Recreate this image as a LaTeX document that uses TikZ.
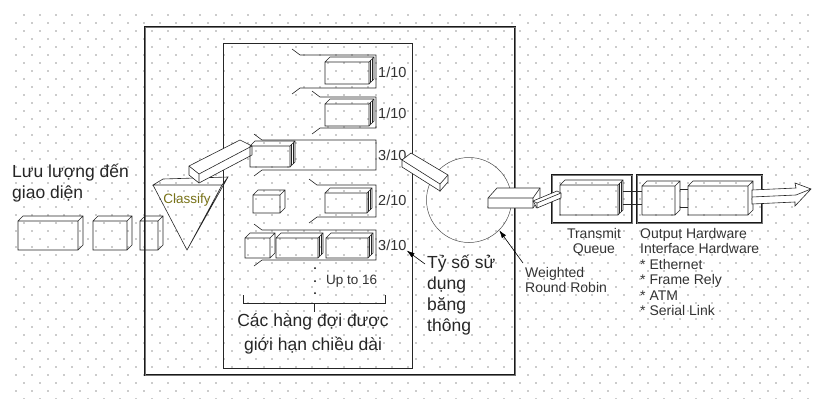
\documentclass[tikz,border=0pt]{standalone}
\usepackage{fontspec}
\setmainfont{Liberation Sans}
\usetikzlibrary{arrows.meta}

% 3D box, front face at (#1,#2) of size #3 x #4
\newcommand{\pkt}[4]{%
  \draw[ln] (#1,#2) rectangle ++(#3,#4)
    (#1,#2) -- ++(5,-5) -- ++(#3,0) -- ++(0,#4) -- ++(-5,5)
    (#1+#3,#2) -- ++(5,-5);}
% same box with a ribbed right side
\newcommand{\qpkt}[4]{\pkt{#1}{#2}{#3}{#4}
  \draw[ln] (#1+#3+1.7,#2-1.7) -- ++(0,#4) (#1+#3+3.4,#2-3.4) -- ++(0,#4);}
% queue frame, open at x=#1
\newcommand{\qframe}[4]{%
  \draw[ln] (#1-8,#2-6) -- (#1,#2) -- (#3,#2) -- (#3,#4) -- (#1,#4) -- (#1-8,#4+6);}

\begin{document}
\begin{tikzpicture}[x=1pt,y=-1pt,
    ln/.style={draw=black!85, line width=0.6pt},
    dbl/.style={draw=black!90, line width=0.6pt, double=black!55, double distance=1pt},
    txt/.style={inner sep=0pt, text=black!85, align=left, font=\fontsize{17.5}{21}\selectfont},
    note/.style={inner sep=0pt, text=black!80, align=left, font=\fontsize{14}{15.5}\selectfont},
    ratio/.style={inner sep=0pt, text=black!80, anchor=west, font=\fontsize{14.5}{16}\selectfont},
    pointer/.style={-{Latex[length=8pt,width=5pt]}, line width=0.6pt}]
\useasboundingbox (0,0) rectangle (815,399);
% dotted paper
\foreach \r in {0,...,48} {
  \pgfmathsetmacro\xo{mod(\r,2)==0 ? 22.7 : 14.7}
  \foreach \c in {0,...,50}
    \fill[black!20] (\xo+16*\c,14+8*\r) rectangle ++(1.8,1.8);
}

\draw[dbl] (145,27) rectangle (515,375);
\draw[ln, line width=0.8pt] (223,43) rectangle (412,368);

% incoming packets and classifier
\node[txt, anchor=north west] (inflow) at (12,164) {Lưu lượng đến\\giao diện};
\pkt{18}{221}{60}{29} \pkt{93}{221}{34}{29} \pkt{140}{221}{18}{29}
\draw[ln] (153,185) -- (163,179) -- (228,177) -- (222,185) -- cycle
  (153,185) -- (187,250) -- (222,185) (187,250) -- (228,177);
\node[note, text=olive!80!black, font=\fontsize{13.5}{15}\selectfont] (classify) at (187,200) {Classify};
\draw[ln, fill=white] (189,166) -- (240,140) -- (252,146) -- (252,155) -- (199,183) -- (189,175) -- cycle;
\draw[ln] (189,166) -- (199,174) -- (252,146) (199,174) -- (199,183);

% queues
\qframe{300}{55}{376}{88} \qpkt{325}{62}{44}{22}
\qframe{320}{97}{376}{128} \qpkt{325}{104}{44}{22}
\qframe{262}{140}{376}{170} \qpkt{250}{146}{40}{21}
\qframe{317}{185}{376}{217} \qpkt{325}{193}{42}{20}
\qframe{262}{230}{376}{260} \pkt{245}{238}{25}{20} \qpkt{276}{238}{42}{20} \qpkt{326}{238}{42}{20}
\pkt{253}{195}{27}{18}

\node[ratio] (r1) at (378,72) {1/10};
\node[ratio] (r2) at (378,113) {1/10};
\node[ratio] (r3) at (378,155) {3/10};
\node[ratio] (r4) at (378,200) {2/10};
\node[ratio] (r5) at (378,245) {3/10};

\fill (315,268) circle (1) (315,281) circle (1) (315,293) circle (1);
\node[note, font=\fontsize{13.5}{15}\selectfont, anchor=west] (upto) at (326,281) {Up to 16};
\draw[ln] (243,295) -- (243,303) -- (385,303) -- (385,295) (314,303) -- (314,312);
\node[txt, align=center, anchor=north, font=\fontsize{17.5}{24}\selectfont] (qlabel) at (313,313) {Các hàng đợi được\\giới hạn chiều dài};

% scheduler
\node[circle, draw=black!70, line width=0.5pt, minimum size=85] (wrr) at (469,200) {};
\draw[ln, fill=white] (402,160) -- (411,153) -- (448,175) -- (448,182) -- (440,191) -- (402,167) -- cycle;
\draw[ln] (402,160) -- (440,184) -- (448,175) (440,184) -- (440,191);
\node[txt, anchor=north west] (bwlabel) at (427,255) {Tỷ số sử\\dụng\\băng\\thông};
\coordinate (bwtail) at (425,264);
\draw[pointer] (bwtail) -- (r5.south east);
\node[note, anchor=north west] (wrrlabel) at (525,267) {Weighted\\Round Robin};
\coordinate (wrrtail) at (523,263);
\draw[pointer] (wrrtail) -- (wrr.-45);

% transmit queue and hardware
\draw[dbl] (552,175) rectangle (632,223);
\draw[dbl] (637,175) rectangle (762,223);
\qpkt{560}{185}{58}{30}
\pkt{642}{186}{33}{29} \pkt{688}{186}{60}{29}
\draw[ln] (623,191) -- (642,191) (623,204) -- (642,204) (680,189) -- (688,189) (680,207) -- (688,207);
\draw[ln, fill=white] (488,198) -- (497,188) -- (540,188) -- (540,198) -- (533,208) -- (488,208) -- cycle;
\draw[ln] (488,198) -- (533,198) -- (540,188) (533,198) -- (533,208);
\draw[ln, fill=white] (533,201) -- (557,191) -- (561,193) -- (561,198) -- (537,208) -- cycle;
\draw[ln] (533,201) -- (537,203) -- (561,193) (537,203) -- (537,208);
\draw[ln, fill=white] (752,190) -- (796,188) -- (795,183) -- (811,189) -- (795,206) -- (795,202) -- (752,204) -- cycle;
\draw[ln] (752,197) -- (796,195) -- (811,189);
\node[note, align=center, anchor=north] (txlabel) at (594,228) {Transmit\\Queue};
\node[note, anchor=north west] (hwlabel) at (640,228) {Output Hardware\\Interface Hardware\\* Ethernet\\* Frame Rely\\* ATM\\* Serial Link};
\end{tikzpicture}
\end{document}
